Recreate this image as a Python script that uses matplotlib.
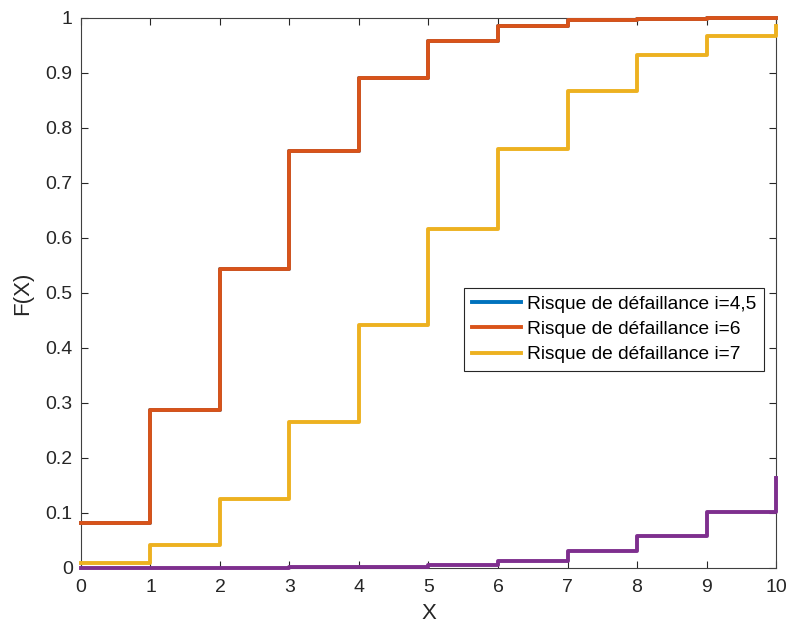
import matplotlib
matplotlib.use("Agg")
import matplotlib.pyplot as plt

plt.rcParams['font.family'] = ['Liberation Sans', 'DejaVu Sans']

x = [0, 1, 2, 3, 4, 5, 6, 7, 8, 9, 10]
risk_45 = [0.082, 0.287, 0.544, 0.758, 0.891, 0.958, 0.986, 0.996, 0.999, 1.0, 1.0]
risk_6 = [0.082, 0.287, 0.544, 0.758, 0.891, 0.958, 0.986, 0.996, 0.999, 1.0, 1.0]
risk_7 = [0.009, 0.042, 0.125, 0.265, 0.441, 0.616, 0.762, 0.867, 0.932, 0.968, 0.985]
risk_other = [0.0, 0.0, 0.0, 0.001, 0.002, 0.005, 0.013, 0.030, 0.058, 0.102, 0.163]

labels = ["Risque de défaillance i=4,5", "Risque de défaillance i=6", "Risque de défaillance i=7"]
colors = ["#0072BD", "#D95319", "#EDB120", "#7E2F8E"]

fig = plt.figure(figsize=(7.9, 6.33), dpi=100)
ax = fig.add_axes([0.1025, 0.1027, 0.8798, 0.8689])

lw = 2.8
ax.step(x, risk_45, where='post', color=colors[0], lw=lw, label=labels[0], clip_on=False, zorder=3)
ax.step(x, risk_6, where='post', color=colors[1], lw=lw, label=labels[1], clip_on=False, zorder=3)
ax.step(x, risk_7, where='post', color=colors[2], lw=lw, label=labels[2], clip_on=False, zorder=3)
ax.step(x, risk_other, where='post', color=colors[3], lw=lw, clip_on=False, zorder=3)

ax.set_xlim(0, 10)
ax.set_ylim(0, 1)
ax.set_xticks(range(0, 11))
ax.set_yticks([i / 10 for i in range(11)])
ax.set_yticklabels(["0", "0.1", "0.2", "0.3", "0.4", "0.5", "0.6", "0.7", "0.8", "0.9", "1"])

ax.tick_params(direction='in', length=5, width=0.8, top=True, right=True,
               labelsize=14, colors='#262626')
ax.tick_params(axis='x', pad=8)
ax.tick_params(axis='y', pad=6)
for s in ax.spines.values():
    s.set_color('#404040')
    s.set_linewidth(0.8)

ax.set_xlabel("X", fontsize=16, color='#262626', labelpad=5)
ax.set_ylabel("F(X)", fontsize=16, color='#262626', labelpad=9)

leg = ax.legend(loc='upper left', bbox_to_anchor=(0.551, 0.509), borderaxespad=0,
                fontsize=13.8, fancybox=False, framealpha=1, edgecolor='#262626',
                handlelength=2.6, handletextpad=0.3, labelspacing=0.4,
                borderpad=0.4)
leg.get_frame().set_linewidth(0.8)
leg.set_zorder(5)

fig.savefig("out.png", dpi=100)
